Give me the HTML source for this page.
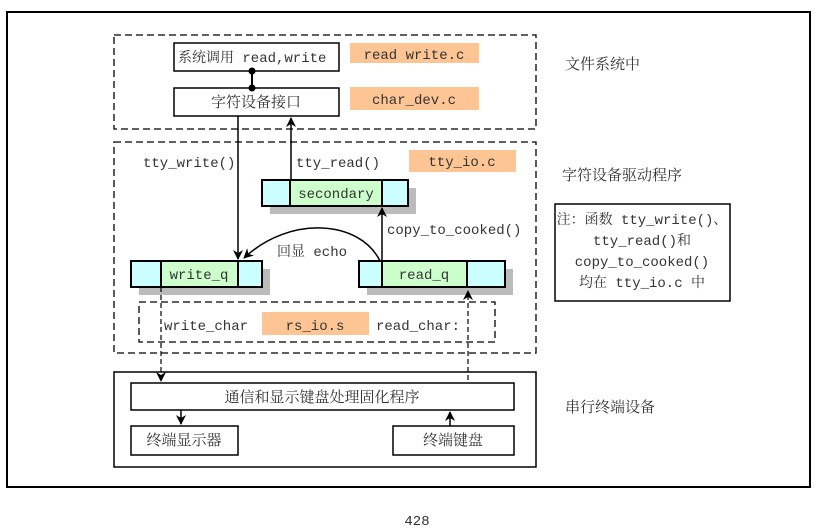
<!DOCTYPE html>
<html><head><meta charset="utf-8"><style>
html,body{margin:0;padding:0;background:#fff;width:825px;height:531px;overflow:hidden}
svg text{font-family:"Liberation Mono","Noto Serif CJK SC",monospace;font-size:14px;fill:#333}
.cj{font-family:"Liberation Serif","Noto Serif CJK SC",serif}
</style></head><body>
<svg width="825" height="531" viewBox="0 0 825 531" xmlns="http://www.w3.org/2000/svg">
<defs>
<marker id="a" markerWidth="10" markerHeight="10" refX="9" refY="5" orient="auto" markerUnits="userSpaceOnUse">
<path d="M0,0 L10,5 L0,10 L3,5 z" fill="#000"/></marker>
</defs>
<rect x="7" y="12" width="803" height="475" fill="none" stroke="#000" stroke-width="2"/>
<g fill="none" stroke="#000" stroke-width="1.3" stroke-dasharray="7,4">
<rect x="114" y="35" width="422" height="94"/>
<rect x="114" y="142" width="422" height="211"/>
<rect x="139" y="302" width="356" height="40"/>
</g>
<rect x="174" y="43" width="165" height="28" fill="#fff" stroke="#000" stroke-width="1.5"/>
<text x="178" y="62" style="font-size:14px">系统调用 read,write</text>
<rect x="350" y="43" width="129" height="20" fill="#fdc593"/>
<text x="414" y="59" text-anchor="middle">read write.c</text>
<rect x="174" y="88" width="165" height="28" fill="#fff" stroke="#000" stroke-width="1.5"/>
<text x="256" y="107" text-anchor="middle" class="cj" style="font-size:15px">字符设备接口</text>
<rect x="350" y="87" width="129" height="23" fill="#fdc593"/>
<text x="414" y="104" text-anchor="middle">char_dev.c</text>
<line x1="252" y1="71" x2="252" y2="88" stroke="#000" stroke-width="2"/>
<circle cx="252" cy="71" r="3.5"/><circle cx="252" cy="88" r="3.5"/>
<rect x="409" y="150" width="107" height="22" fill="#fdc593"/>
<text x="462" y="166" text-anchor="middle">tty_io.c</text>
<text x="143" y="167">tty_write()</text>
<text x="296" y="167">tty_read()</text>
<text x="387" y="234">copy_to_cooked()</text>
<text x="277" y="256">回显 echo</text>
<g fill="#bbb">
<rect x="270" y="188" width="146" height="26"/>
<rect x="139" y="269" width="131" height="26"/>
<rect x="367" y="269" width="146" height="26"/>
</g>
<g stroke="#000" stroke-width="2">
<rect x="262" y="180" width="28" height="26" fill="#ccffff"/>
<rect x="290" y="180" width="92" height="26" fill="#ccffcc"/>
<rect x="382" y="180" width="26" height="26" fill="#ccffff"/>
<rect x="131" y="261" width="30" height="26" fill="#ccffff"/>
<rect x="161" y="261" width="77" height="26" fill="#ccffcc"/>
<rect x="238" y="261" width="24" height="26" fill="#ccffff"/>
<rect x="359" y="261" width="23" height="26" fill="#ccffff"/>
<rect x="382" y="261" width="85" height="26" fill="#ccffcc"/>
<rect x="467" y="261" width="38" height="26" fill="#ccffff"/>
</g>
<text x="336" y="198" text-anchor="middle">secondary</text>
<text x="199" y="279" text-anchor="middle">write_q</text>
<text x="424" y="279" text-anchor="middle">read_q</text>
<g stroke="#000" stroke-width="1.5" fill="none">
<line x1="238" y1="116" x2="238" y2="259" marker-end="url(#a)"/>
<line x1="291" y1="180" x2="291" y2="118" marker-end="url(#a)"/>
<line x1="382" y1="261" x2="382" y2="208" marker-end="url(#a)"/>
<path d="M380,261 C360,220 290,215 244,258" marker-end="url(#a)"/>
</g>
<text x="164" y="330">write_char</text>
<rect x="262" y="312" width="107" height="23" fill="#fdc593"/>
<text x="315" y="330" text-anchor="middle">rs_io.s</text>
<text x="376" y="330">read_char:</text>
<g stroke="#000" stroke-width="1.2" stroke-dasharray="5,3" fill="none">
<line x1="161" y1="287" x2="161" y2="381" marker-end="url(#a)"/>
<line x1="468" y1="380" x2="468" y2="291" marker-end="url(#a)"/>
</g>
<rect x="114" y="372" width="422" height="95" fill="none" stroke="#000" stroke-width="1.5"/>
<rect x="131" y="383" width="383" height="27" fill="#fff" stroke="#000" stroke-width="1.5"/>
<text x="322" y="402" text-anchor="middle" class="cj" style="font-size:15px">通信和显示键盘处理固化程序</text>
<rect x="131" y="426" width="107" height="29" fill="#fff" stroke="#000" stroke-width="1.5"/>
<text x="184" y="445" text-anchor="middle" class="cj" style="font-size:15px">终端显示器</text>
<rect x="393" y="426" width="121" height="29" fill="#fff" stroke="#000" stroke-width="1.5"/>
<text x="453" y="445" text-anchor="middle" class="cj" style="font-size:15px">终端键盘</text>
<g stroke="#000" stroke-width="1.5">
<line x1="181" y1="410" x2="181" y2="424" marker-end="url(#a)"/>
<line x1="450" y1="426" x2="450" y2="412" marker-end="url(#a)"/>
</g>
<text x="565" y="69" class="cj" style="font-size:15px">文件系统中</text>
<text x="562" y="180" class="cj" style="font-size:15px">字符设备驱动程序</text>
<rect x="555" y="204" width="175" height="97" fill="none" stroke="#000" stroke-width="1.5"/>
<text x="642" y="224" text-anchor="middle">注：函数 tty_write()、</text>
<text x="642" y="245" text-anchor="middle">tty_read()和</text>
<text x="642" y="266" text-anchor="middle">copy_to_cooked()</text>
<text x="642" y="287" text-anchor="middle">均在 tty_io.c 中</text>
<text x="565" y="412" class="cj" style="font-size:15px">串行终端设备</text>
<text x="417" y="525" text-anchor="middle">428</text>
</svg>
</body></html>
